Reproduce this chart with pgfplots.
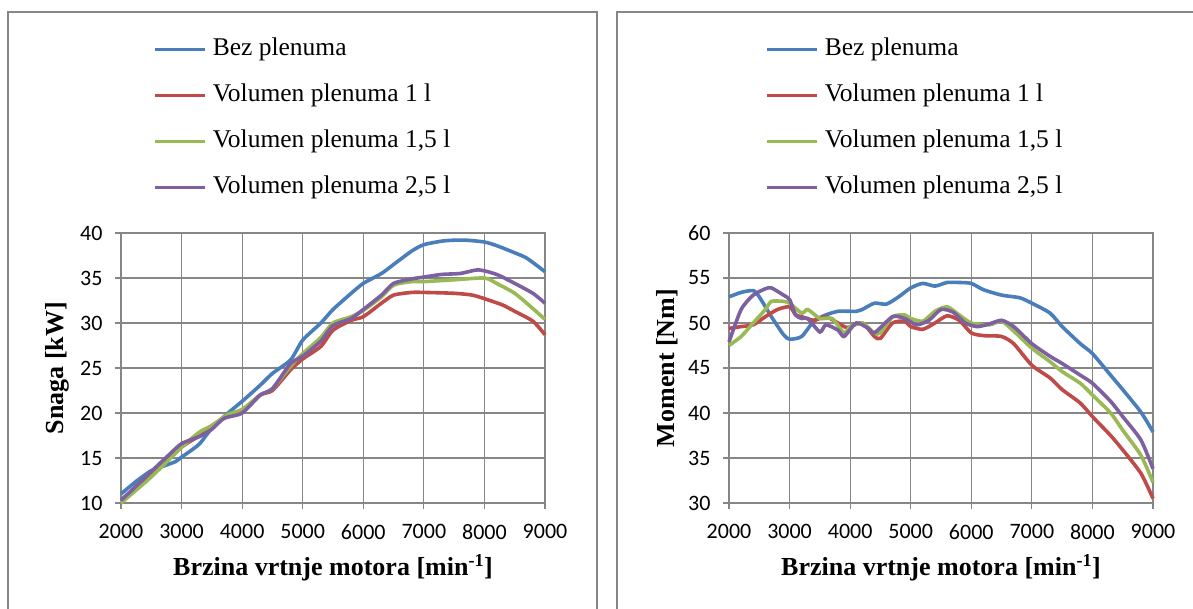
\documentclass[border=0pt]{standalone}
\usepackage{fontspec}
\setmainfont{Liberation Serif}
\newfontfamily\calibri{Carlito}
\usepackage{pgfplots}
\pgfplotsset{compat=1.18}
\definecolor{xblue}{HTML}{4A7EBB}
\definecolor{xred}{HTML}{BE4B48}
\definecolor{xgreen}{HTML}{98B954}
\definecolor{xpurple}{HTML}{7D60A0}
\definecolor{xgray}{HTML}{868686}
\pgfplotsset{
  excel/.style={
    scale only axis, width=424pt, height=270pt,
    xmin=2000, xmax=9000, xtick={2000,3000,...,9000},
    grid=major, major grid style={xgray, line width=1.2pt},
    axis line style={xgray, line width=1.2pt},
    tick style={xgray, line width=1.2pt}, major tick length=6pt,
    tick align=outside, xtick pos=bottom, ytick pos=left,
    /pgf/number format/1000 sep={}, /pgf/number format/assume math mode=true,
    ticklabel style={font=\calibri\fontsize{22}{22}\selectfont, black},
    xticklabel style={yshift=-12pt},
    yticklabel style={xshift=-9pt},
    x label style={at={(axis description cs:0.5,0)}, yshift=-65pt, anchor=center, font=\bfseries\fontsize{26}{26}\selectfont},
    y label style={anchor=center, font=\bfseries\fontsize{26}{26}\selectfont},
    legend style={draw=none, fill=none, inner sep=0pt, anchor=north west,
      font=\fontsize{25.5}{25.5}\selectfont, row sep=19pt,
      nodes={text height=17pt, text depth=6pt, inner xsep=6pt}},
    legend cell align=left,
    legend image code/.code={\draw[#1] (0pt,0pt) -- (50pt,0pt);},
    every axis plot/.append style={line width=3.6pt, smooth, tension=0.4},
    clip=false,
  }
}
\begin{document}
\begin{tikzpicture}[x=1pt,y=1pt]
\useasboundingbox (0,0) rectangle (1193,608);
\draw[xgray, line width=1.3pt] (8,-2) -- (8,596) -- (597,596) -- (597,-2);
\draw[xgray, line width=1.3pt] (617,-2) -- (617,596) -- (1195,596);
\begin{axis}[excel, at={(121pt,105pt)}, anchor=south west,
  ymin=10, ymax=40, ytick={10,15,...,40},
  xlabel={Brzina vrtnje motora [min\textsuperscript{-1}]},
  ylabel={Snaga [kW]},
  y label style={at={(axis description cs:-0.151,0.5)}},
  legend style={at={(axis description cs:0.0755,1.73)}}]
\addplot[xblue] coordinates {(2000,11.0)(2250,12.4)(2500,13.6)(2700,14.1)(2900,14.6)(3000,15.1)(3150,15.8)(3300,16.6)(3500,18.3)(3750,19.9)(4000,21.3)(4300,23.1)(4500,24.4)(4800,25.9)(5000,28.1)(5300,30.0)(5500,31.5)(5800,33.3)(6000,34.4)(6300,35.5)(6500,36.5)(6800,38.0)(7000,38.7)(7300,39.1)(7500,39.2)(7700,39.2)(8000,39.0)(8200,38.6)(8500,37.8)(8700,37.2)(9000,35.7)};
\addlegendentry{Bez plenuma}
\addplot[xred] coordinates {(2000,10.3)(2500,13.1)(3000,16.2)(3300,17.5)(3500,18.6)(3750,19.6)(4000,20.3)(4300,22.0)(4500,22.5)(4800,24.8)(5000,26.0)(5300,27.4)(5500,29.2)(5800,30.3)(6000,30.7)(6300,32.2)(6500,33.1)(6800,33.4)(7000,33.4)(7500,33.3)(7800,33.1)(8000,32.7)(8300,32.0)(8500,31.3)(8800,30.2)(9000,28.7)};
\addlegendentry{Volumen plenuma 1 l}
\addplot[xgreen] coordinates {(2000,10.0)(2500,12.9)(3000,16.2)(3300,17.9)(3500,18.6)(3750,19.8)(4000,20.4)(4300,22.0)(4500,22.7)(4800,25.2)(5000,26.6)(5300,28.4)(5500,30.0)(5800,30.7)(6000,31.4)(6300,32.9)(6500,34.2)(6800,34.6)(7000,34.6)(7500,34.8)(8000,35.0)(8200,34.4)(8500,33.3)(8800,31.6)(9000,30.4)};
\addlegendentry{Volumen plenuma 1,5 l}
\addplot[xpurple] coordinates {(2000,10.3)(2300,12.2)(2500,13.5)(2800,15.4)(3000,16.6)(3300,17.4)(3500,18.2)(3700,19.4)(4000,20.0)(4300,22.0)(4500,22.7)(4800,25.5)(5000,26.3)(5300,28.0)(5500,29.7)(5800,30.5)(6000,31.5)(6300,33.1)(6500,34.4)(6800,34.9)(7000,35.1)(7300,35.4)(7600,35.5)(7900,35.9)(8200,35.4)(8500,34.4)(8800,33.3)(9000,32.2)};
\addlegendentry{Volumen plenuma 2,5 l}
\end{axis}
\begin{axis}[excel, at={(729pt,105pt)}, anchor=south west,
  ymin=30, ymax=60, ytick={30,35,...,60},
  xlabel={Brzina vrtnje motora [min\textsuperscript{-1}]},
  ylabel={Moment [Nm]},
  y label style={at={(axis description cs:-0.146,0.5)}},
  legend style={at={(axis description cs:0.0849,1.73)}}]
\addplot[xblue] coordinates {(2000,52.9)(2200,53.4)(2400,53.6)(2500,52.9)(2700,50.7)(2900,48.7)(3000,48.2)(3200,48.5)(3400,50.2)(3600,50.9)(3800,51.3)(4000,51.3)(4100,51.3)(4200,51.5)(4400,52.2)(4600,52.1)(4800,52.9)(5000,53.9)(5200,54.4)(5400,54.1)(5600,54.5)(5800,54.5)(6000,54.4)(6200,53.7)(6500,53.1)(6800,52.8)(7000,52.2)(7300,51.1)(7500,49.6)(7800,47.7)(8000,46.6)(8300,44.2)(8500,42.6)(8800,40.1)(9000,37.9)};
\addlegendentry{Bez plenuma}
\addplot[xred] coordinates {(2000,49.4)(2200,49.6)(2400,49.8)(2600,50.7)(2800,51.5)(3000,51.8)(3100,50.9)(3200,50.7)(3400,50.3)(3600,50.7)(3800,50.0)(3950,49.5)(4200,50.0)(4400,48.5)(4500,48.3)(4700,50.0)(4900,50.2)(5000,49.6)(5200,49.3)(5400,50.0)(5600,50.8)(5800,50.3)(6000,48.9)(6200,48.6)(6500,48.5)(6700,47.7)(7000,45.3)(7300,43.9)(7500,42.6)(7800,41.1)(8000,39.6)(8300,37.5)(8500,35.9)(8800,33.3)(9000,30.5)};
\addlegendentry{Volumen plenuma 1 l}
\addplot[xgreen] coordinates {(2000,47.5)(2200,48.5)(2400,50.0)(2600,51.5)(2700,52.4)(2900,52.4)(3000,52.2)(3200,51.1)(3300,51.5)(3500,50.5)(3700,50.5)(3900,48.9)(4000,49.6)(4200,50.0)(4400,48.9)(4500,48.9)(4700,50.7)(4900,50.9)(5000,50.5)(5200,50.2)(5400,51.3)(5600,51.8)(5800,50.9)(6000,50.0)(6300,49.8)(6500,50.2)(6700,49.1)(7000,47.2)(7300,45.7)(7500,44.6)(7800,43.3)(8000,42.0)(8300,40.0)(8500,38.1)(8800,35.3)(9000,32.3)};
\addlegendentry{Volumen plenuma 1,5 l}
\addplot[xpurple] coordinates {(2000,47.9)(2200,51.5)(2400,53.1)(2600,53.8)(2700,53.9)(2900,53.1)(3000,52.6)(3100,50.9)(3200,50.5)(3300,50.5)(3500,49.0)(3600,49.8)(3800,49.2)(3900,48.5)(4100,50.0)(4300,49.4)(4400,48.9)(4700,50.7)(4900,50.5)(5100,49.8)(5300,50.3)(5500,51.5)(5700,51.2)(5900,50.0)(6100,49.6)(6300,49.9)(6500,50.3)(6700,49.6)(7000,47.7)(7300,46.3)(7500,45.5)(7800,44.2)(8000,43.3)(8300,41.3)(8500,39.6)(8800,37.0)(9000,33.8)};
\addlegendentry{Volumen plenuma 2,5 l}
\end{axis}
\end{tikzpicture}
\end{document}
